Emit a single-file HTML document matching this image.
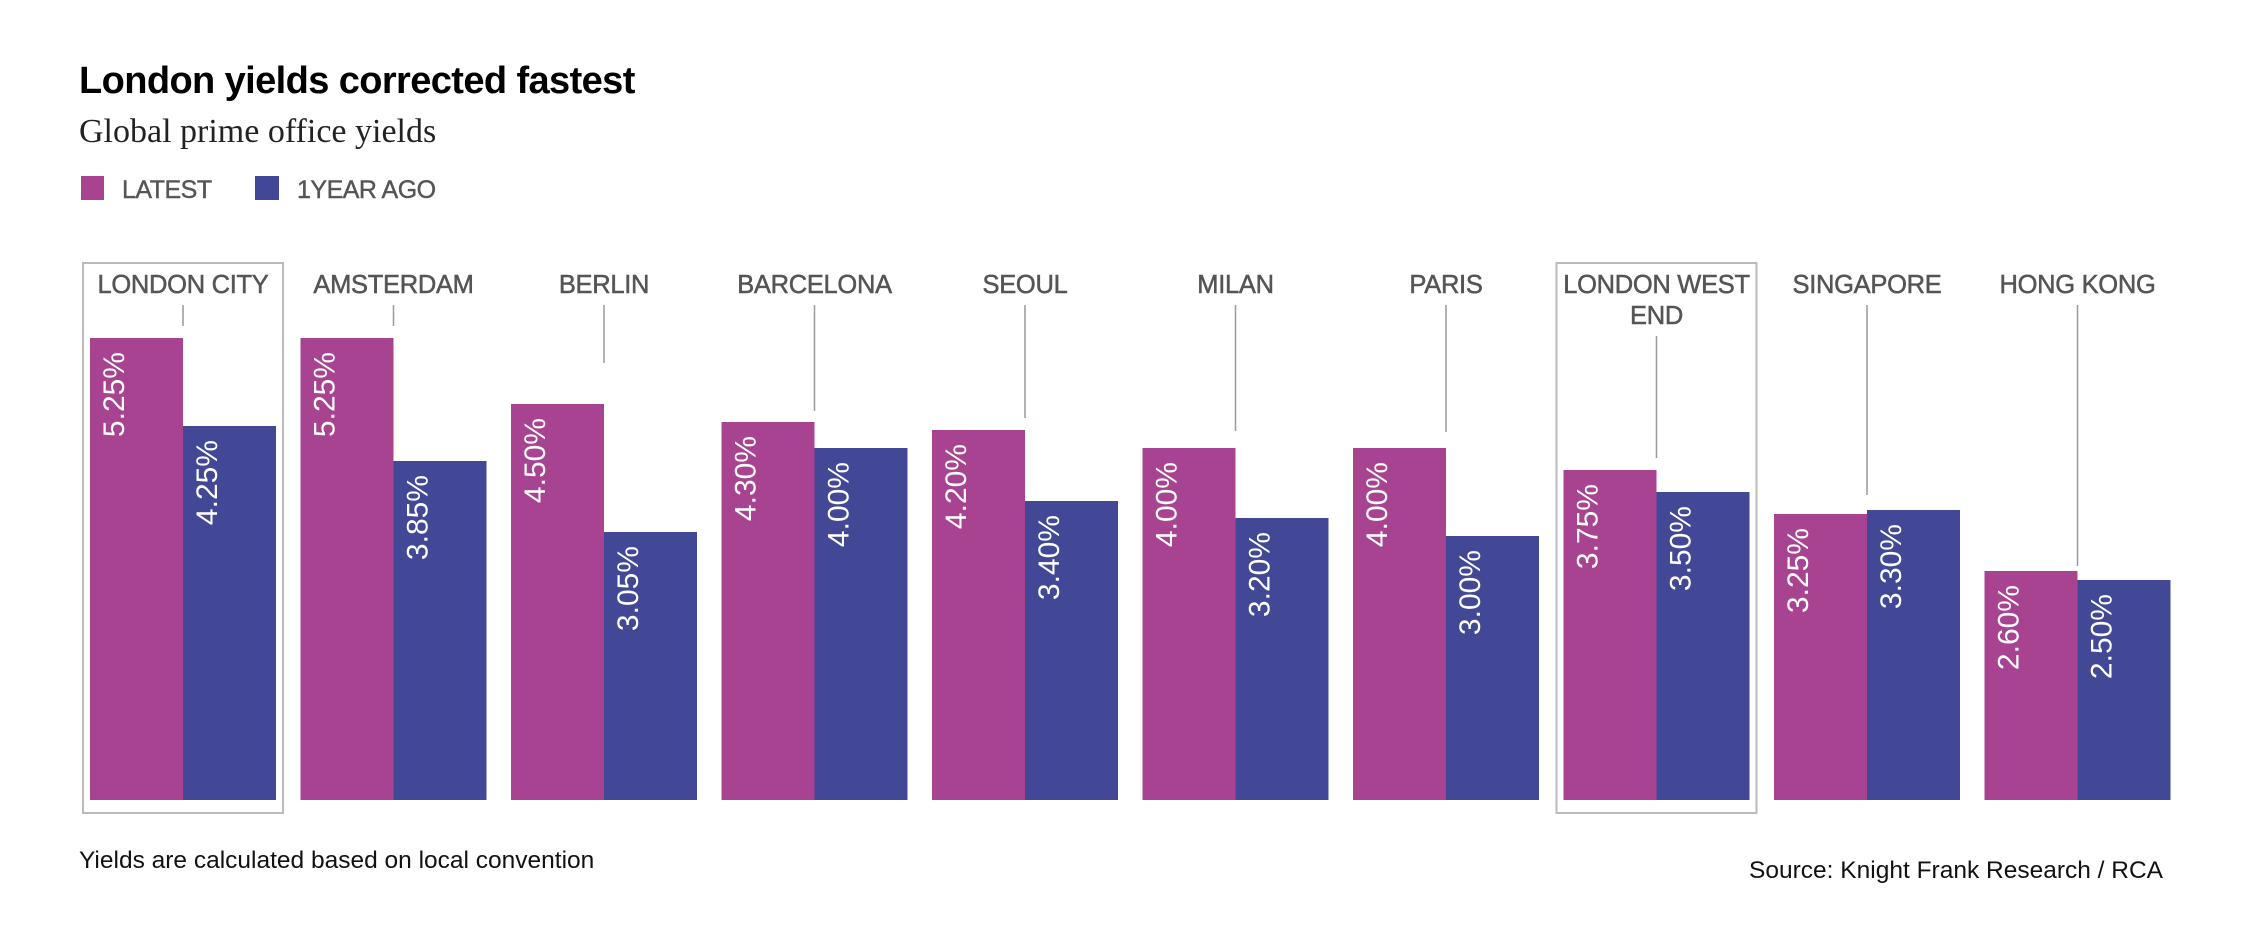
<!DOCTYPE html>
<html><head><meta charset="utf-8"><style>
html,body{margin:0;padding:0;background:#fff;}
svg{display:block;}
</style></head><body>
<svg width="2243" height="934" xmlns="http://www.w3.org/2000/svg" font-family="Liberation Sans, sans-serif">
<text x="79" y="93" font-size="38" font-weight="bold" fill="#000" letter-spacing="-0.6">London yields corrected fastest</text>
<text x="79" y="142" font-size="34" font-family="Liberation Serif, serif" fill="#222">Global prime office yields</text>
<rect x="81" y="176" width="23" height="24" fill="#a84391"/>
<text x="122" y="198" font-size="25" fill="#555" stroke="#555" stroke-width="0.4" letter-spacing="-0.5">LATEST</text>
<rect x="255" y="176" width="24" height="24" fill="#424896"/>
<text x="297" y="198" font-size="25" fill="#555" stroke="#555" stroke-width="0.4" letter-spacing="-0.5">1YEAR AGO</text>

<rect x="83" y="263" width="200" height="550" fill="none" stroke="#bbb" stroke-width="2"/>
<rect x="1556.5" y="263" width="200" height="550" fill="none" stroke="#bbb" stroke-width="2"/>

<g font-size="25.5" fill="#555" stroke="#555" stroke-width="0.5" text-anchor="middle" letter-spacing="-0.3">
<text x="183" y="293">LONDON CITY</text>
<text x="393.5" y="293">AMSTERDAM</text>
<text x="604" y="293">BERLIN</text>
<text x="814.5" y="293">BARCELONA</text>
<text x="1025" y="293">SEOUL</text>
<text x="1235.5" y="293">MILAN</text>
<text x="1446" y="293">PARIS</text>
<text x="1656.5" y="293">LONDON WEST</text>
<text x="1656.5" y="324">END</text>
<text x="1867" y="293">SINGAPORE</text>
<text x="2077.5" y="293">HONG KONG</text>
</g>

<g stroke="#999" stroke-width="1.5">
<line x1="183" y1="305" x2="183" y2="326"/>
<line x1="393.5" y1="305" x2="393.5" y2="326"/>
<line x1="604" y1="305" x2="604" y2="363"/>
<line x1="814.5" y1="305" x2="814.5" y2="411"/>
<line x1="1025" y1="305" x2="1025" y2="418"/>
<line x1="1235.5" y1="305" x2="1235.5" y2="431"/>
<line x1="1446" y1="305" x2="1446" y2="432"/>
<line x1="1656.5" y1="336" x2="1656.5" y2="458"/>
<line x1="1867" y1="305" x2="1867" y2="495"/>
<line x1="2077.5" y1="305" x2="2077.5" y2="566"/>
</g>

<g fill="#a84391">
<rect x="90" y="338" width="93" height="462"/>
<rect x="300.5" y="338" width="93" height="462"/>
<rect x="511" y="404" width="93" height="396"/>
<rect x="721.5" y="422" width="93" height="378"/>
<rect x="932" y="430" width="93" height="370"/>
<rect x="1142.5" y="448" width="93" height="352"/>
<rect x="1353" y="448" width="93" height="352"/>
<rect x="1563.5" y="470" width="93" height="330"/>
<rect x="1774" y="514" width="93" height="286"/>
<rect x="1984.5" y="571" width="93" height="229"/>
</g>
<g fill="#424896">
<rect x="183" y="426" width="93" height="374"/>
<rect x="393.5" y="461" width="93" height="339"/>
<rect x="604" y="532" width="93" height="268"/>
<rect x="814.5" y="448" width="93" height="352"/>
<rect x="1025" y="501" width="93" height="299"/>
<rect x="1235.5" y="518" width="93" height="282"/>
<rect x="1446" y="536" width="93" height="264"/>
<rect x="1656.5" y="492" width="93" height="308"/>
<rect x="1867" y="510" width="93" height="290"/>
<rect x="2077.5" y="580" width="93" height="220"/>
</g>

<g font-size="30" fill="#fff" text-anchor="end">
<text transform="translate(124,352) rotate(-90)">5.25%</text>
<text transform="translate(217,440) rotate(-90)">4.25%</text>
<text transform="translate(334.5,352) rotate(-90)">5.25%</text>
<text transform="translate(427.5,475) rotate(-90)">3.85%</text>
<text transform="translate(545,418) rotate(-90)">4.50%</text>
<text transform="translate(638,546) rotate(-90)">3.05%</text>
<text transform="translate(755.5,436) rotate(-90)">4.30%</text>
<text transform="translate(848.5,462) rotate(-90)">4.00%</text>
<text transform="translate(966,444) rotate(-90)">4.20%</text>
<text transform="translate(1059,515) rotate(-90)">3.40%</text>
<text transform="translate(1176.5,462) rotate(-90)">4.00%</text>
<text transform="translate(1269.5,532) rotate(-90)">3.20%</text>
<text transform="translate(1387,462) rotate(-90)">4.00%</text>
<text transform="translate(1480,550) rotate(-90)">3.00%</text>
<text transform="translate(1597.5,484) rotate(-90)">3.75%</text>
<text transform="translate(1690.5,506) rotate(-90)">3.50%</text>
<text transform="translate(1808,528) rotate(-90)">3.25%</text>
<text transform="translate(1901,524) rotate(-90)">3.30%</text>
<text transform="translate(2018.5,585) rotate(-90)">2.60%</text>
<text transform="translate(2111.5,594) rotate(-90)">2.50%</text>
</g>

<text x="79" y="868" font-size="24.5" fill="#111">Yields are calculated based on local convention</text>
<text x="2163" y="878" font-size="24.5" fill="#111" text-anchor="end">Source: Knight Frank Research / RCA</text>
</svg>
</body></html>
